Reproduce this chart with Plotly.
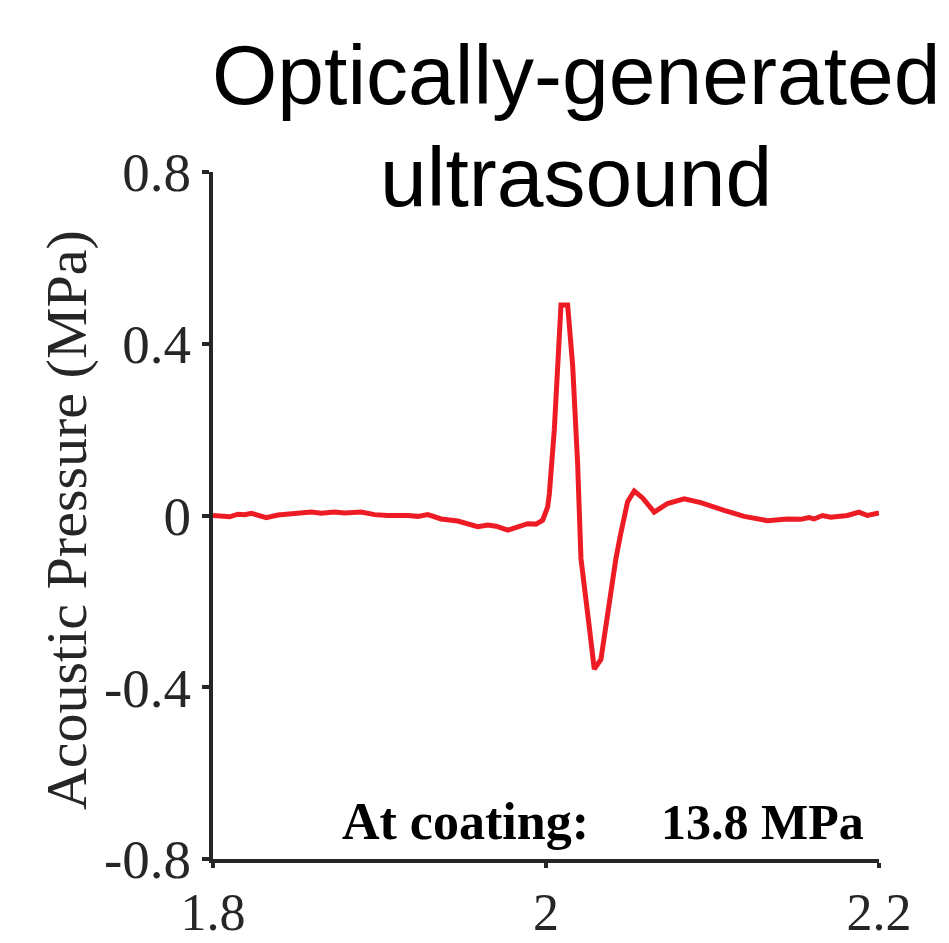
import plotly.graph_objects as go

# Data (time in µs, acoustic pressure in MPa)
time_us = [1.800, 1.810, 1.815, 1.819, 1.823, 1.827, 1.832, 1.839, 1.847, 1.853,
           1.859, 1.865, 1.873, 1.879, 1.889, 1.897, 1.905, 1.917, 1.923, 1.929,
           1.937, 1.947, 1.953, 1.959, 1.965, 1.970, 1.977, 1.983, 1.989, 1.994,
           1.998, 2.001, 2.002, 2.005, 2.008, 2.009, 2.013, 2.016, 2.019, 2.021,
           2.026, 2.029, 2.033, 2.038, 2.042, 2.045, 2.049, 2.053, 2.058, 2.065,
           2.073, 2.083, 2.093, 2.107, 2.119, 2.133, 2.145, 2.153, 2.158, 2.161,
           2.166, 2.171, 2.181, 2.188, 2.193, 2.200]
pressure_mpa = [0.000, -0.003, 0.003, 0.002, 0.005, 0.000, -0.005, 0.001, 0.004, 0.006,
                0.008, 0.005, 0.008, 0.006, 0.008, 0.002, 0.000, 0.000, -0.002, 0.002,
                -0.008, -0.013, -0.019, -0.026, -0.022, -0.025, -0.034, -0.026, -0.019, -0.020,
                -0.011, 0.020, 0.050, 0.200, 0.410, 0.490, 0.490, 0.350, 0.120, -0.100,
                -0.260, -0.358, -0.335, -0.200, -0.100, -0.040, 0.032, 0.057, 0.041, 0.008,
                0.028, 0.039, 0.030, 0.012, -0.002, -0.012, -0.008, -0.009, -0.005, -0.008,
                0.000, -0.004, 0.000, 0.008, 0.000, 0.006]

x_ticks = [1.8, 2.0, 2.2]
x_tick_labels = ["1.8", "2", "2.2"]
y_ticks = [-0.8, -0.4, 0, 0.4, 0.8]
y_tick_labels = ["-0.8", "-0.4", "0", "0.4", "0.8"]

title_lines = ["Optically-generated", "ultrasound"]
y_label = "Acoustic Pressure (MPa)"
note_left = "At coating:"
note_right = "13.8 MPa"

AXIS_COLOR = "#262626"
SERIF = "Liberation Serif, Times New Roman, serif"
SANS = "Liberation Sans, Arial, sans-serif"

fig = go.Figure()
fig.add_trace(go.Scatter(
    x=time_us, y=pressure_mpa, mode="lines",
    line=dict(color="#ED1C24", width=5),
    showlegend=False, hoverinfo="skip", cliponaxis=False,
))

axis_common = dict(
    showline=True, linecolor=AXIS_COLOR, linewidth=4,
    ticks="outside", tickwidth=4, tickcolor=AXIS_COLOR,
    showgrid=False, zeroline=False, mirror=False, automargin=False,
)

# The page body adds an 8 px offset, so the figure is 8 px smaller
fig.update_layout(
    width=941, height=935,
    margin=dict(l=205, r=70, t=164, b=84),
    paper_bgcolor="white", plot_bgcolor="white",
    xaxis=dict(range=[1.8, 2.2], tickvals=x_ticks, ticktext=x_tick_labels,
               ticklen=5, ticklabelstandoff=0,
               tickfont=dict(family=SERIF, size=52, color=AXIS_COLOR),
               **axis_common),
    yaxis=dict(range=[-0.8, 0.8], tickvals=y_ticks, ticktext=y_tick_labels,
               ticklen=7, ticklabelstandoff=0,
               tickfont=dict(family=SERIF, size=55, color=AXIS_COLOR),
               **axis_common),
)

annotations = [
    dict(text=title_lines[0], x=0.5457, y=1.141, xref="paper", yref="paper",
         xanchor="center", yanchor="middle", showarrow=False,
         font=dict(family=SANS, size=84, color="black")),
    dict(text=title_lines[1], x=0.5457, y=0.993, xref="paper", yref="paper",
         xanchor="center", yanchor="middle", showarrow=False,
         font=dict(family=SANS, size=84, color="black")),
    dict(text=y_label, x=-0.22, y=0.494, xref="paper", yref="paper",
         xanchor="center", yanchor="middle", textangle=-90, showarrow=False,
         font=dict(family=SERIF, size=58, color=AXIS_COLOR)),
    dict(text="<b>" + note_left + "</b>", x=0.19, y=0.054, xref="paper", yref="paper",
         xanchor="left", yanchor="middle", showarrow=False,
         font=dict(family=SERIF, size=52, color="black")),
    dict(text="<b>" + note_right + "</b>", x=0.67, y=0.054, xref="paper", yref="paper",
         xanchor="left", yanchor="middle", showarrow=False,
         font=dict(family=SERIF, size=50, color="black")),
]
fig.update_layout(annotations=annotations)

fig.write_html("out.html")
